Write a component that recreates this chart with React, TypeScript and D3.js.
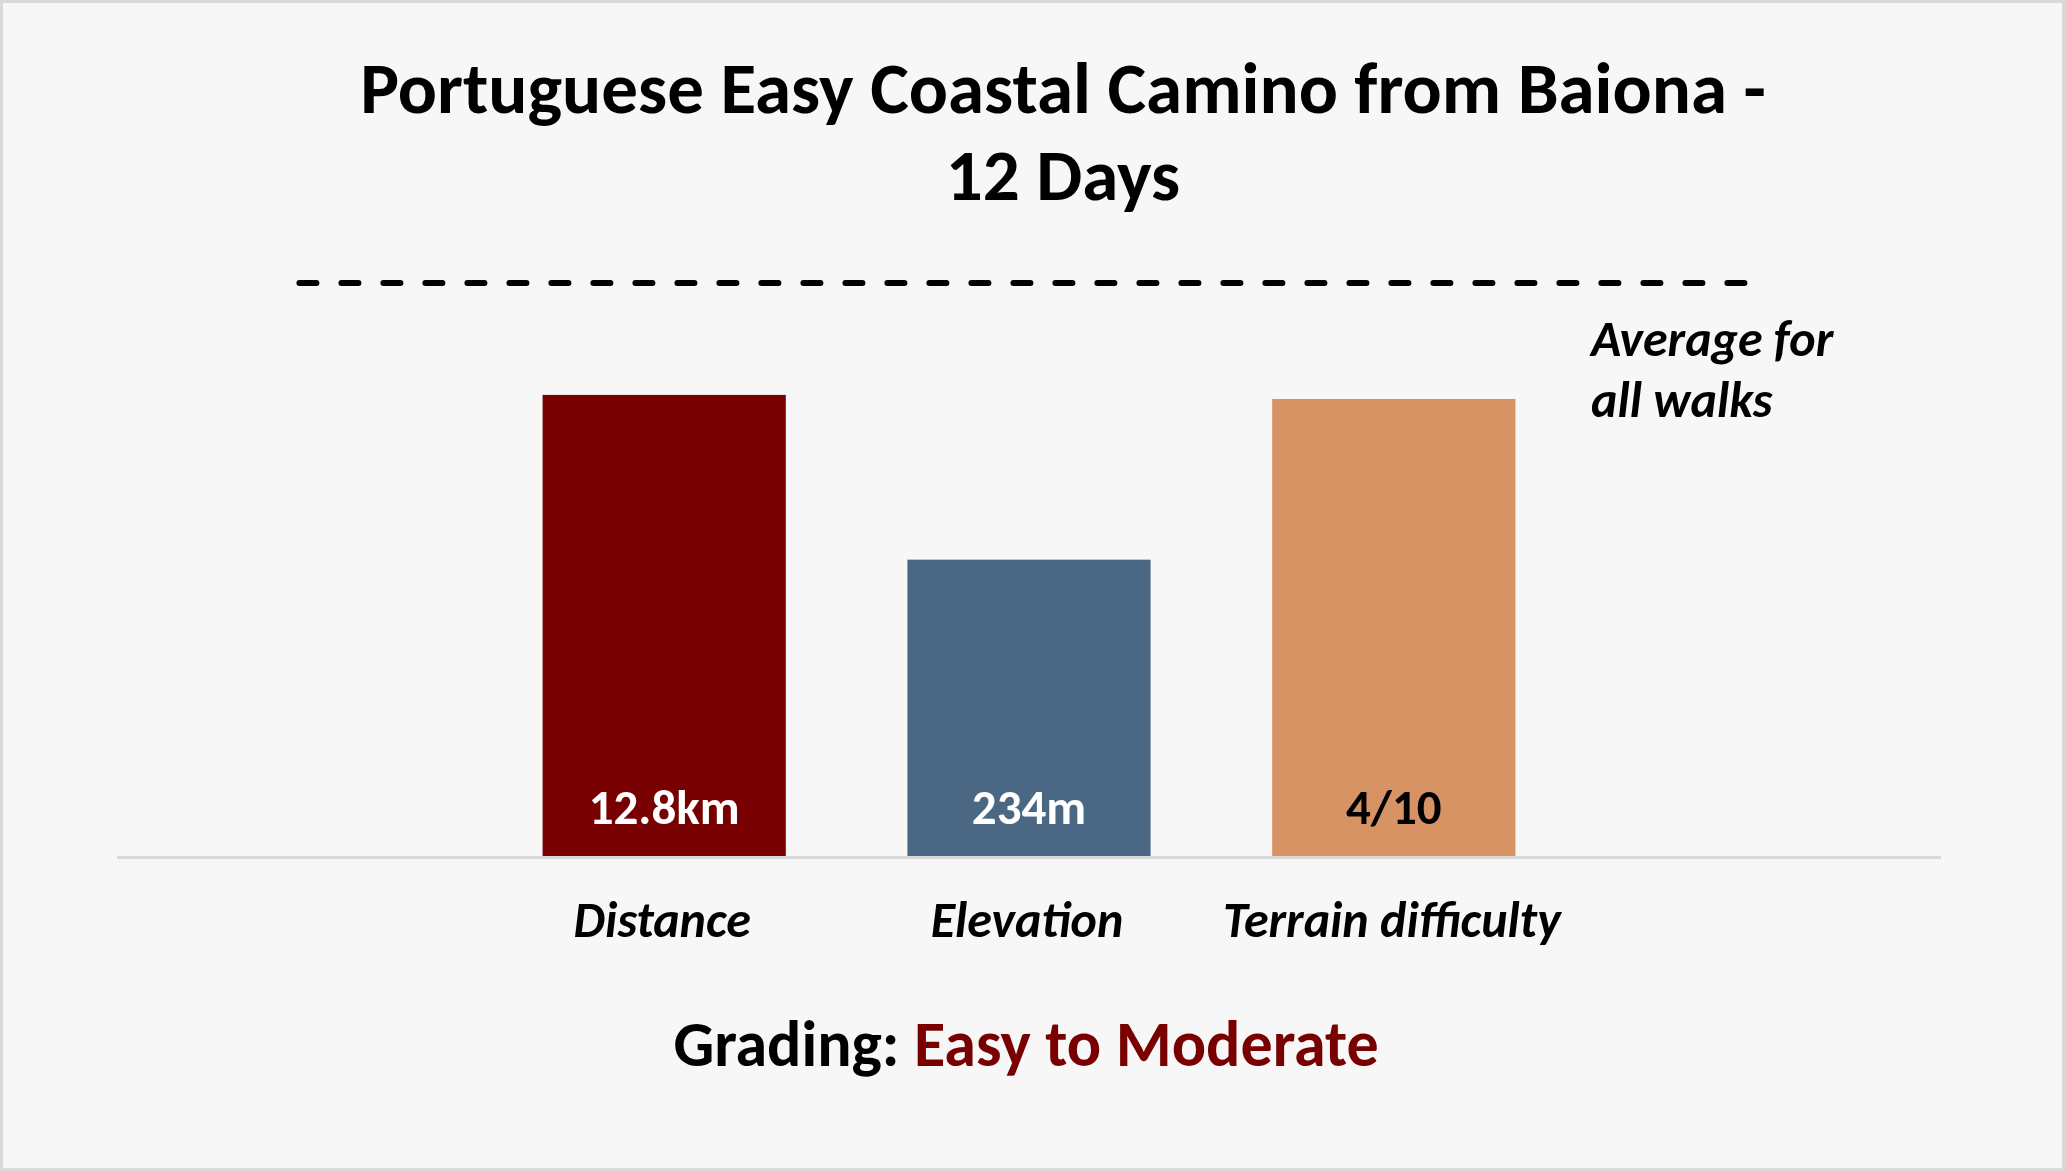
import React, { useEffect, useRef } from 'react';
import * as d3 from 'd3';

// chart data (bars are relative to the average for all walks = 1)
const categories = ['', 'Distance', 'Elevation', 'Terrain difficulty', ''];
const barValues: (number | null)[] = [null, 0.805, 0.518, 0.798, null];
const barLabels = ['', '12.8km', '234m', '4/10', ''];
const averageValues = [1, 1, 1, 1, 1];
const barColors = ['none', '#780000', '#4a6884', '#d79364', 'none'];
const barLabelColors = ['none', '#ffffff', '#ffffff', '#000000', 'none'];

const titleLines = ['Portuguese Easy Coastal Camino from Baiona -', '12 Days'];
const averageLabel = ['Average for', 'all walks'];
const gradingPrefix = 'Grading: ';
const gradingValue = 'Easy to Moderate';

const FONT = 'Calibri, Carlito, Lato, sans-serif';

const App: React.FC = () => {
  const chartRef = useRef<SVGSVGElement>(null);

  useEffect(() => {
    if (!chartRef.current) return;
    const width = 2065;
    const height = 1171;

    const svg = d3.select(chartRef.current);
    svg.selectAll('*').remove();
    svg.attr('width', width).attr('height', height);

    // background + border
    svg
      .append('rect')
      .attr('x', 1.5)
      .attr('y', 1.5)
      .attr('width', width - 3)
      .attr('height', height - 3)
      .attr('fill', '#f7f7f7')
      .attr('stroke', '#d9d9d9')
      .attr('stroke-width', 3);

    const idx = categories.map((_, i) => i);
    const x = d3
      .scaleBand<number>()
      .domain(idx)
      .range([117, 1941])
      .paddingInner(1 / 3)
      .paddingOuter(1 / 6);

    const y = d3.scaleLinear().domain([0, 1]).range([857, 283]);

    // title
    svg
      .append('g')
      .selectAll('text')
      .data(titleLines)
      .enter()
      .append('text')
      .attr('x', 1063)
      .attr('y', (d, i) => 113 + i * 87)
      .attr('text-anchor', 'middle')
      .attr('font-family', FONT)
      .attr('font-weight', 'bold')
      .attr('font-size', '73px')
      .attr('fill', '#000')
      .text((d) => d);

    // bars
    svg
      .append('g')
      .selectAll('rect')
      .data(idx.filter((i) => barValues[i] != null))
      .enter()
      .append('rect')
      .attr('x', (i) => x(i)!)
      .attr('width', x.bandwidth())
      .attr('y', (i) => y(barValues[i] as number))
      .attr('height', (i) => y(0) - y(barValues[i] as number))
      .attr('fill', (i) => barColors[i]);

    // axis line
    svg
      .append('line')
      .attr('x1', 117)
      .attr('x2', 1941)
      .attr('y1', y(0) + 0.5)
      .attr('y2', y(0) + 0.5)
      .attr('stroke', '#d9d9d9')
      .attr('stroke-width', 3);

    // average dashed line
    const line = d3
      .line<number>()
      .x((d, i) => x(i)! + x.bandwidth() / 2)
      .y((d) => y(d));
    svg
      .append('path')
      .datum(averageValues)
      .attr('d', line)
      .attr('fill', 'none')
      .attr('stroke', '#000')
      .attr('stroke-width', 6)
      .attr('stroke-linecap', 'round')
      .attr('stroke-dasharray', '17 25');

    svg
      .append('g')
      .selectAll('text')
      .data(averageLabel)
      .enter()
      .append('text')
      .attr('x', 1591)
      .attr('y', (d, i) => 356 + i * 61)
      .attr('font-family', FONT)
      .attr('font-weight', 'bold')
      .attr('font-style', 'italic')
      .attr('font-size', '50px')
      .attr('fill', '#000')
      .text((d) => d);

    // value labels inside bars
    svg
      .append('g')
      .selectAll('text')
      .data(idx.filter((i) => barValues[i] != null))
      .enter()
      .append('text')
      .attr('x', (i) => x(i)! + x.bandwidth() / 2)
      .attr('y', y(0) - 33)
      .attr('text-anchor', 'middle')
      .attr('font-family', FONT)
      .attr('font-weight', 'bold')
      .attr('font-size', '49px')
      .attr('fill', (i) => barLabelColors[i])
      .text((i) => barLabels[i]);

    // category labels
    svg
      .append('g')
      .selectAll('text')
      .data(idx.filter((i) => categories[i] !== ''))
      .enter()
      .append('text')
      .attr('x', (i) => x(i)! + x.bandwidth() / 2 - 2)
      .attr('y', 937)
      .attr('text-anchor', 'middle')
      .attr('font-family', FONT)
      .attr('font-weight', 'bold')
      .attr('font-style', 'italic')
      .attr('font-size', '50px')
      .attr('fill', '#000')
      .text((i) => categories[i]);

    // grading
    const grading = svg
      .append('text')
      .attr('x', 1026)
      .attr('y', 1066)
      .attr('text-anchor', 'middle')
      .attr('font-family', FONT)
      .attr('font-weight', 'bold')
      .attr('font-size', '64px');
    grading.append('tspan').attr('fill', '#000').text(gradingPrefix);
    grading.append('tspan').attr('fill', '#780000').text(gradingValue);
  }, []);

  return (
    <svg
      ref={chartRef}
      style={{ position: 'absolute', left: 0, top: 0, display: 'block' }}
    ></svg>
  );
};

export default App;
